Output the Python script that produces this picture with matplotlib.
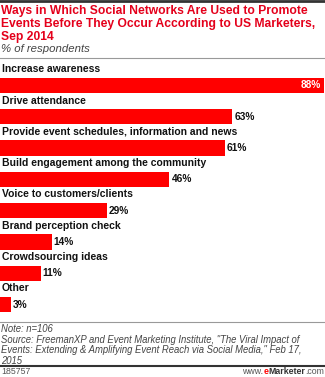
import matplotlib
matplotlib.use('Agg')
import matplotlib.pyplot as plt
import numpy as np

# chart data
categories = ['Increase awareness', 'Drive attendance',
              'Provide event schedules, information and news',
              'Build engagement among the community',
              'Voice to customers/clients', 'Brand perception check',
              'Crowdsourcing ideas', 'Other']
values = [88, 63, 61, 46, 29, 14, 11, 3]

title = ('Ways in Which Social Networks Are Used to Promote\n'
         'Events Before They Occur According to US Marketers,\n'
         'Sep 2014')
subtitle = '% of respondents'
note = ('Note: n=106\n'
        'Source: FreemanXP and Event Marketing Institute, "The Viral Impact of\n'
        'Events: Extending & Amplifying Event Reach via Social Media," Feb 17,\n'
        '2015')

W, H = 325, 377
red = '#ff0000'
fig = plt.figure(figsize=(W / 100, H / 100), dpi=100)
plt.rcParams['font.family'] = ['Liberation Sans', 'DejaVu Sans']

def fy(px):
  return 1 - px / H

# top rule and title
fig.add_artist(plt.Line2D([0, 1], [fy(1), fy(1)], color='#333333', lw=2))
fig.text(0.003, fy(5), title, color='#e4001b', fontsize=8.75, fontweight='bold',
         va='top', ha='left', linespacing=1.1)
fig.text(0.003, fy(43.5), subtitle, color='#444444', fontsize=8.2, style='italic',
         va='top', ha='left')
fig.add_artist(plt.Line2D([0, 1], [fy(58), fy(58)], color='#999999', lw=0.8))

# bars
pitch = 31.3
top_px, bot_px = 60, 320
ax = fig.add_axes([0, fy(bot_px), 1, (bot_px - top_px) / H])
y = np.arange(len(categories))
ax.barh(y, values, height=0.49, color=red, edgecolor='none')
ax.set_xlim(0, 88 * W / 324)
ax.set_ylim((bot_px - 85.5) / pitch, (top_px - 85.5) / pitch)
ax.axis('off')
for i, (c, v) in enumerate(zip(categories, values)):
  ax.text(0.5, i - 0.52, c, fontsize=7.5, fontweight='bold', color='#111111',
          va='center', ha='left')
  if i == 0:
    ax.text(v - 0.8, i, f'{v}%', fontsize=7.3, fontweight='bold', color='white',
            va='center', ha='right')
  else:
    ax.text(v + 0.6, i, f'{v}%', fontsize=7.3, fontweight='bold', color='#111111',
            va='center', ha='left')

# footer
fig.add_artist(plt.Line2D([0, 1], [fy(322), fy(322)], color='#999999', lw=0.8))
fig.text(0.003, fy(324), note, color='#444444', fontsize=6.85, style='italic',
         va='top', ha='left', linespacing=1.07)
fig.add_artist(plt.Line2D([0, 1], [fy(365.5), fy(365.5)], color='#333333', lw=1.5))
fig.text(0.003, fy(371.5), '185757', color='#555555', fontsize=6.3, va='center', ha='left')
t1 = fig.text(0.997, fy(371.5), '.com', color='#555555', fontsize=6.3, va='center', ha='right')
fig.canvas.draw()
r = fig.canvas.get_renderer()
x = t1.get_window_extent(r).x0
t2 = fig.text(x / W, fy(371.5), 'Marketer', color='#333333', fontsize=6.3,
              fontweight='bold', va='center', ha='right')
x = t2.get_window_extent(r).x0
t3 = fig.text(x / W, fy(371.5), 'e', color=red, fontsize=6.3,
              fontweight='bold', va='center', ha='right')
x = t3.get_window_extent(r).x0
fig.text(x / W, fy(371.5), 'www.', color='#555555', fontsize=6.3, va='center', ha='right')

fig.savefig('out.png', dpi=100)
